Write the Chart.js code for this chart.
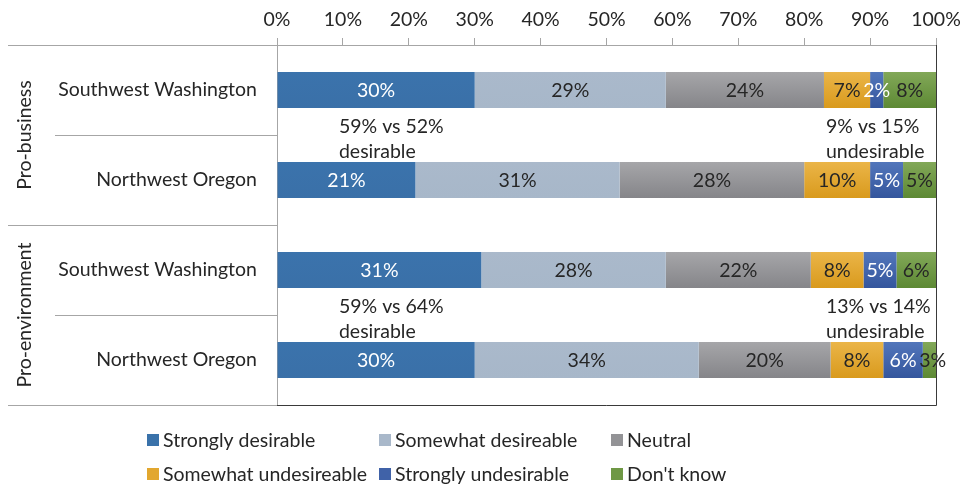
<!DOCTYPE html>
<html>
<head>
<meta charset="utf-8">
<script src="https://cdn.jsdelivr.net/npm/chart.js@4.4.1/dist/chart.umd.min.js"></script>
<style>
  html, body { margin: 0; padding: 0; background: #fff; }
  #wrap { width: 961px; height: 487px; }
</style>
</head>
<body>
<div id="wrap"><canvas id="survey"></canvas></div>
<script>
const regions = ['Southwest Washington', 'Northwest Oregon', 'Southwest Washington', 'Northwest Oregon'];
const groups = ['Pro-business', 'Pro-environment'];
const responses = ['Strongly desirable', 'Somewhat desireable', 'Neutral',
                   'Somewhat undesireable', 'Strongly undesirable', "Don't know"];

const stronglyDesirable   = [30, 21, 31, 30];
const somewhatDesirable   = [29, 31, 28, 34];
const neutral             = [24, 28, 22, 20];
const somewhatUndesirable = [7, 10, 8, 8];
const stronglyUndesirable = [2, 5, 5, 6];
const dontKnow            = [8, 5, 6, 3];

const xTicks = [0, 10, 20, 30, 40, 50, 60, 70, 80, 90, 100];

const desirableNotes   = [['59% vs 52%', 'desirable'], ['59% vs 64%', 'desirable']];
const undesirableNotes = [['9% vs 15%', 'undesirable'], ['13% vs 14%', 'undesirable']];

const FONT = 'Lato, "Open Sans", sans-serif';
const SIZE = 19.5;
const TEXT = '#262626';
const LINE = '#a6a6a6';

// vertical fill for one bar, lighter on top
function shade(top, bottom) {
  return (c) => {
    const y = c.chart.scales.y;
    if (!y || !c.chart.chartArea || c.dataIndex === undefined) return bottom;
    const mid = y.getPixelForValue(c.dataIndex);
    const g = c.chart.ctx.createLinearGradient(0, mid - 18, 0, mid + 18);
    g.addColorStop(0, top);
    g.addColorStop(1, bottom);
    return g;
  };
}

const series = [
  { data: stronglyDesirable,   fill: ['#3b73ac', '#3a70a8'], swatch: '#3a72aa', ink: '#ffffff' },
  { data: somewhatDesirable,   fill: ['#aab9cb', '#a7b7c9'], swatch: '#a9b8ca', ink: TEXT },
  { data: neutral,             fill: ['#a6a6a9', '#858589'], swatch: '#939396', ink: TEXT },
  { data: somewhatUndesirable, fill: ['#ebb548', '#d99a1d'], swatch: '#e2a72f', ink: TEXT },
  { data: stronglyUndesirable, fill: ['#5276bb', '#34569d'], swatch: '#4062a8', ink: '#ffffff' },
  { data: dontKnow,            fill: ['#82a858', '#5d8934'], swatch: '#6f9845', ink: TEXT }
];

const datasets = series.map((s, i) => ({
  label: responses[i],
  data: s.data,
  backgroundColor: shade(s.fill[0], s.fill[1]),
  borderWidth: 0,
  barPercentage: 0.4,
  categoryPercentage: 1
}));

const extras = {
  id: 'extras',
  afterDatasetsDraw(chart) {
    const ctx = chart.ctx;
    const x = chart.scales.x, y = chart.scales.y;
    const area = chart.chartArea;
    ctx.save();
    ctx.font = SIZE + 'px ' + FONT;
    ctx.textBaseline = 'middle';

    // value labels in the bars
    ctx.textAlign = 'center';
    chart.data.datasets.forEach((ds, i) => {
      chart.getDatasetMeta(i).data.forEach((bar, j) => {
        ctx.fillStyle = series[i].ink;
        ctx.fillText(ds.data[j] + '%', (bar.x + bar.base) / 2, bar.y + 1);
      });
    });

    // left-hand separators
    const step = y.getPixelForValue(1) - y.getPixelForValue(0);
    ctx.strokeStyle = LINE;
    ctx.lineWidth = 1;
    for (let k = 0; k <= regions.length; k++) {
      const py = Math.round(y.getPixelForValue(k) - step / 2) + 0.5;
      ctx.beginPath();
      ctx.moveTo(k % 2 === 0 ? 8 : 55, py);
      ctx.lineTo(area.left, py);
      ctx.stroke();
    }

    // group names, rotated
    ctx.fillStyle = TEXT;
    groups.forEach((g, k) => {
      const cy = (y.getPixelForValue(2 * k) + y.getPixelForValue(2 * k + 1)) / 2;
      ctx.save();
      ctx.translate(25, cy);
      ctx.rotate(-Math.PI / 2);
      ctx.fillText(g, 0, 0);
      ctx.restore();
    });

    // right and bottom frame
    ctx.strokeStyle = '#3a3a3a';
    ctx.beginPath();
    ctx.moveTo(Math.round(area.right) + 0.5, area.top);
    ctx.lineTo(Math.round(area.right) + 0.5, Math.round(area.bottom) + 0.5);
    ctx.lineTo(area.left, Math.round(area.bottom) + 0.5);
    ctx.stroke();

    // comparison notes between the two regions of each group
    ctx.textAlign = 'left';
    ctx.fillStyle = TEXT;
    [0, 2].forEach((row, k) => {
      const cy = (y.getPixelForValue(row) + y.getPixelForValue(row + 1)) / 2 + 4;
      desirableNotes[k].forEach((t, n) => ctx.fillText(t, x.getPixelForValue(9.4), cy - 12 + n * 25));
      undesirableNotes[k].forEach((t, n) => ctx.fillText(t, x.getPixelForValue(83.3), cy - 12 + n * 25));
    });

    // legend, three columns by two rows
    responses.forEach((r, i) => {
      const col = i % 3, row = Math.floor(i / 3);
      const lx = 147 + col * 232, ly = 440 + row * 34;
      ctx.fillStyle = series[i].swatch;
      ctx.fillRect(lx, ly - 6, 12, 12);
      ctx.fillStyle = TEXT;
      ctx.fillText(r, lx + 16, ly + 1);
    });
    ctx.restore();
  }
};

new Chart(document.getElementById('survey'), {
  type: 'bar',
  data: { labels: regions, datasets: datasets },
  options: {
    indexAxis: 'y',
    responsive: true,
    maintainAspectRatio: false,
    animation: false,
    events: [],
    layout: { padding: { left: 8, top: 0, right: 25, bottom: 82 } },
    scales: {
      x: {
        position: 'top',
        stacked: true,
        min: 0,
        max: 100,
        afterBuildTicks: (s) => { s.ticks = xTicks.map(v => ({ value: v })); },
        ticks: { callback: (v) => v + '%', color: TEXT, font: { family: FONT, size: SIZE }, padding: 7 },
        grid: { drawOnChartArea: false, tickLength: 7, color: LINE },
        border: { color: LINE },
        afterFit: (s) => { s.height = 45; s.paddingLeft = 0; s.paddingRight = 0; }
      },
      y: {
        stacked: true,
        ticks: { color: TEXT, font: { family: FONT, size: SIZE }, padding: 12 },
        grid: { display: false },
        border: { color: LINE },
        afterFit: (s) => { s.width = 269; s.paddingTop = 0; s.paddingBottom = 0; }
      }
    },
    plugins: {
      legend: { display: false },
      tooltip: { enabled: false }
    }
  },
  plugins: [extras]
});
</script>
</body>
</html>
